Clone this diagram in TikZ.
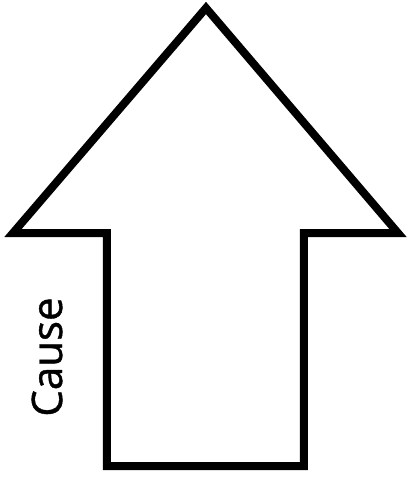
\documentclass[tikz,border=0pt]{standalone}
\usepackage{fontspec}
\setmainfont{Open Sans}
\newfontfamily\causefont{Open Sans}[FakeBold=1]
\usepackage{tikz}
\usetikzlibrary{positioning}

\begin{document}
\begin{tikzpicture}[
  x=0.5pt,y=-0.5pt,
  outline/.style={draw=black,line width=4pt,miter limit=20,line join=miter},
  lbl/.style={font=\causefont\fontsize{21}{25}\selectfont,rotate=90,inner sep=0pt}
]
\useasboundingbox (0,0) rectangle (410,479);
\coordinate (tip) at (206,8);
\coordinate (hl) at (13,233);
\coordinate (hr) at (398,233);
\coordinate (sl) at (107,233);
\coordinate (sr) at (304,233);
\coordinate (bl) at (107,466);
\coordinate (br) at (304,466);
\draw[outline] (tip) -- (hr) -- (sr) -- (br) -- (bl) -- (sl) -- (hl) -- cycle;
\node[lbl] (cause) at (47,357) {Cause};
\end{tikzpicture}
\end{document}
